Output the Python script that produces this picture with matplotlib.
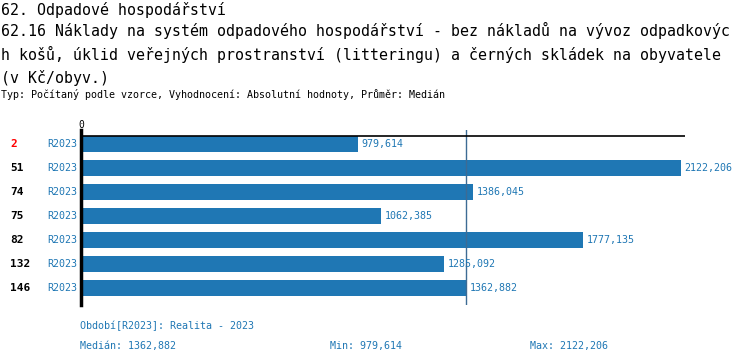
import matplotlib.pyplot as plt
from matplotlib import transforms

codes = ["2", "51", "74", "75", "82", "132", "146"]
periods = ["R2023"] * 7
values = [979.614, 2122.206, 1386.045, 1062.385, 1777.135, 1285.092, 1362.882]
value_labels = ["979,614", "2122,206", "1386,045", "1062,385", "1777,135", "1285,092", "1362,882"]
code_colors = ["red", "black", "black", "black", "black", "black", "black"]
median = 1362.882

title1 = "62. Odpadové hospodářství"
title2 = ("62.16 Náklady na systém odpadového hospodářství - bez nákladů na vývoz odpadkovýc\n"
          "h košů, úklid veřejných prostranství (litteringu) a černých skládek na obyvatele\n"
          "(v Kč/obyv.)")
subtitle = "Typ: Počítaný podle vzorce, Vyhodnocení: Absolutní hodnoty, Průměr: Medián"

W, H = 750, 364
blue = "#1f77b4"
plt.rcParams["font.family"] = ["DejaVu Sans Mono"]

fig = plt.figure(figsize=(W / 100, H / 100), dpi=100)
# axes: x from px 81 to 685, y from px 130 to 305 (top-down)
ax = fig.add_axes([81 / W, 1 - 305 / H, (685 - 81) / W, 175 / H])

xmax = (685 - 81) / ((681 - 81) / max(values))
ax.set_xlim(0, xmax)
ax.set_ylim(161 / 24, -14 / 24)

ypos = list(range(len(values)))
ax.barh(ypos, values, height=16 / 24, color=blue, zorder=2)
ax.axvline(median, color="#3d6b94", lw=1, zorder=3)
ax.axhline(-8 / 24, color="black", lw=1.2, zorder=3)

for s in ["top", "right", "bottom"]:
    ax.spines[s].set_visible(False)
ax.spines["left"].set_linewidth(2.5)
ax.set_xticks([])
ax.set_yticks([])

for i, (v, lab) in enumerate(zip(values, value_labels)):
    ax.annotate(lab, (v, i), xytext=(2.5, 0), textcoords="offset points",
                va="center", ha="left", fontsize=7.2, color=blue)

tr = transforms.blended_transform_factory(fig.transFigure, ax.transData)
for i, (c, col, p) in enumerate(zip(codes, code_colors, periods)):
    ax.text(10 / W, i, c, transform=tr, va="center", ha="left",
            fontsize=8, fontweight="bold", color=col)
    ax.text(47 / W, i, p, transform=tr, va="center", ha="left",
            fontsize=7.2, color=blue)

ax.text(0, -0.8, "0", ha="center", va="center", fontsize=7, color="black",
        clip_on=False)

fig.text(1 / W, 1 - 10 / H, title1, ha="left", va="center", fontsize=10.7)
fig.text(1 / W, 1 - 54 / H, title2, ha="left", va="center", fontsize=10.7,
         linespacing=1.55)
fig.text(1 / W, 1 - 94 / H, subtitle, ha="left", va="center", fontsize=7.2)

fig.text(80 / W, 1 - 326 / H, "Období[R2023]: Realita - 2023", ha="left",
         va="center", fontsize=7.2, color=blue)
fig.text(80 / W, 1 - 346 / H, "Medián: 1362,882", ha="left", va="center",
         fontsize=7.2, color=blue)
fig.text(330 / W, 1 - 346 / H, "Min: 979,614", ha="left", va="center",
         fontsize=7.2, color=blue)
fig.text(530 / W, 1 - 346 / H, "Max: 2122,206", ha="left", va="center",
         fontsize=7.2, color=blue)

fig.savefig("out.png", dpi=100)
